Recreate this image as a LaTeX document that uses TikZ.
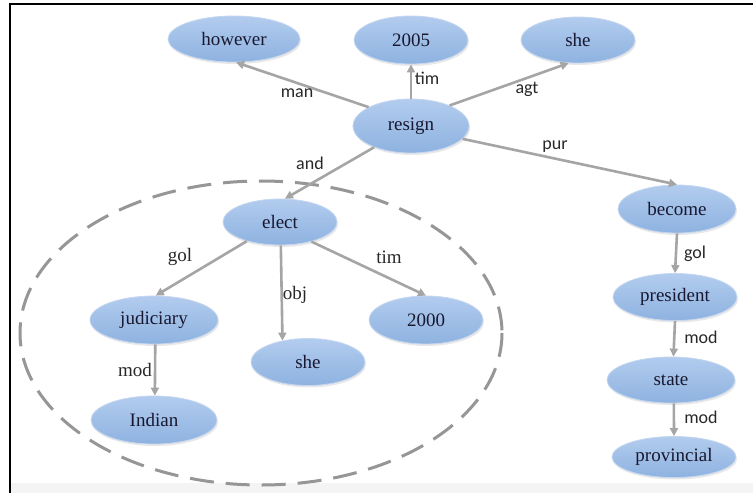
\documentclass[tikz,border=0pt]{standalone}
\usepackage{fontspec}
\setmainfont{Liberation Serif}
\newfontfamily\conceptfont{Liberation Serif}
\newfontfamily\lblsans{Carlito}
\usetikzlibrary{shapes.geometric,arrows.meta,shadows}
\definecolor{nodetop}{RGB}{178,204,238}
\definecolor{nodemid}{RGB}{210,228,248}
\definecolor{nodebot}{RGB}{142,178,224}
\definecolor{noderim}{RGB}{196,214,240}
\definecolor{nodetext}{RGB}{24,24,48}
\definecolor{linkgray}{RGB}{165,165,165}
\definecolor{dashgray}{RGB}{150,150,150}
\definecolor{labeltext}{RGB}{40,40,40}
\definecolor{footgray}{RGB}{244,244,244}
\tikzset{
  concept/.style={ellipse, inner sep=0pt, draw=noderim, line width=0.8pt,
    top color=nodetop, middle color=nodemid, bottom color=nodebot,
    drop shadow={opacity=0.18, shadow xshift=1pt, shadow yshift=-2pt},
    text=nodetext, font=\conceptfont\fontsize{19}{21}\selectfont},
  link/.style={draw=linkgray, line width=2.6pt,
    -{Triangle[length=8pt,width=8pt]}},
  sanslbl/.style={text=labeltext, inner sep=0pt, font=\lblsans\fontsize{18}{20}\selectfont},
  seriflbl/.style={text=labeltext, inner sep=0pt, font=\conceptfont\fontsize{19}{21}\selectfont},
}
\begin{document}
\begin{tikzpicture}[x=1pt,y=-1pt]
  \useasboundingbox (0,0) rectangle (753,493);
  \fill[white] (0,0) rectangle (753,493);
  \fill[footgray] (10,483) rectangle (753,493);
  % frame lines
  \draw[black, line width=1.6pt] (10,493) -- (10,4) -- (753,4);

  % grouping of the embedded clause
  \draw[dashgray, line width=3pt, dash pattern=on 24pt off 12pt] (261,333) ellipse [x radius=241, y radius=152];

  % concepts
  \node[concept, minimum width=132pt, minimum height=46pt] (however) at (234,39) {however};
  \node[concept, minimum width=114pt, minimum height=48pt] (y2005) at (411,40) {2005};
  \node[concept, minimum width=114pt, minimum height=46pt] (she1) at (578,40) {she};
  \node[concept, minimum width=116pt, minimum height=54pt] (resign) at (411,126) {resign};
  \node[concept, minimum width=114pt, minimum height=46pt] (elect) at (280,222) {elect};
  \node[concept, minimum width=128pt, minimum height=48pt] (judiciary) at (154,320) {judiciary};
  \node[concept, minimum width=114pt, minimum height=47pt] (she2) at (308,362) {she};
  \node[concept, minimum width=114pt, minimum height=48pt] (y2000) at (426,320) {2000};
  \node[concept, minimum width=126pt, minimum height=48pt] (indian) at (154,420) {Indian};
  \node[concept, minimum width=118pt, minimum height=48pt] (become) at (677,209) {become};
  \node[concept, minimum width=124pt, minimum height=47pt] (president) at (675,297) {president};
  \node[concept, minimum width=128pt, minimum height=46pt] (state) at (671,380) {state};
  \node[concept, minimum width=124pt, minimum height=41pt] (provincial) at (674,457) {provincial};

  % relations
  \draw[link] (resign.156) -- (however.-85);
  \draw[link] (resign.north) -- (y2005.south);
  \draw[link] (resign.28) -- (she1.-112);
  \draw[link] (resign.-150) -- (elect.78);
  \draw[link] (resign.-14) -- (become.north);
  \draw[link] (elect.-150) -- (judiciary.86);
  \draw[link] (elect.-88) -- (she2.140);
  \draw[link] (elect.-32) -- (y2000.north);
  \draw[link] (judiciary.-87) -- (indian.88);
  \draw[link] (become.south) -- (president.north);
  \draw[link] (president.south) -- (state.84);
  \draw[link] (state.-83) -- (provincial.north);

  % relation labels
  \node[sanslbl] (lman) at (297,93) {man};
  \node[sanslbl] (ltim1) at (427,78) {tim};
  \node[sanslbl] (lagt) at (527,89) {agt};
  \node[sanslbl] (lpur) at (555,147) {pur};
  \node[sanslbl] (land) at (310,163) {and};
  \node[seriflbl] (lgol1) at (180,257) {gol};
  \node[seriflbl] (lobj) at (295,295) {obj};
  \node[seriflbl] (ltim2) at (389,257) {tim};
  \node[seriflbl] (lmod1) at (135,370) {mod};
  \node[sanslbl] (lgol2) at (695,254) {gol};
  \node[sanslbl] (lmod2) at (701,337) {mod};
  \node[sanslbl] (lmod3) at (701,417) {mod};
\end{tikzpicture}
\end{document}
